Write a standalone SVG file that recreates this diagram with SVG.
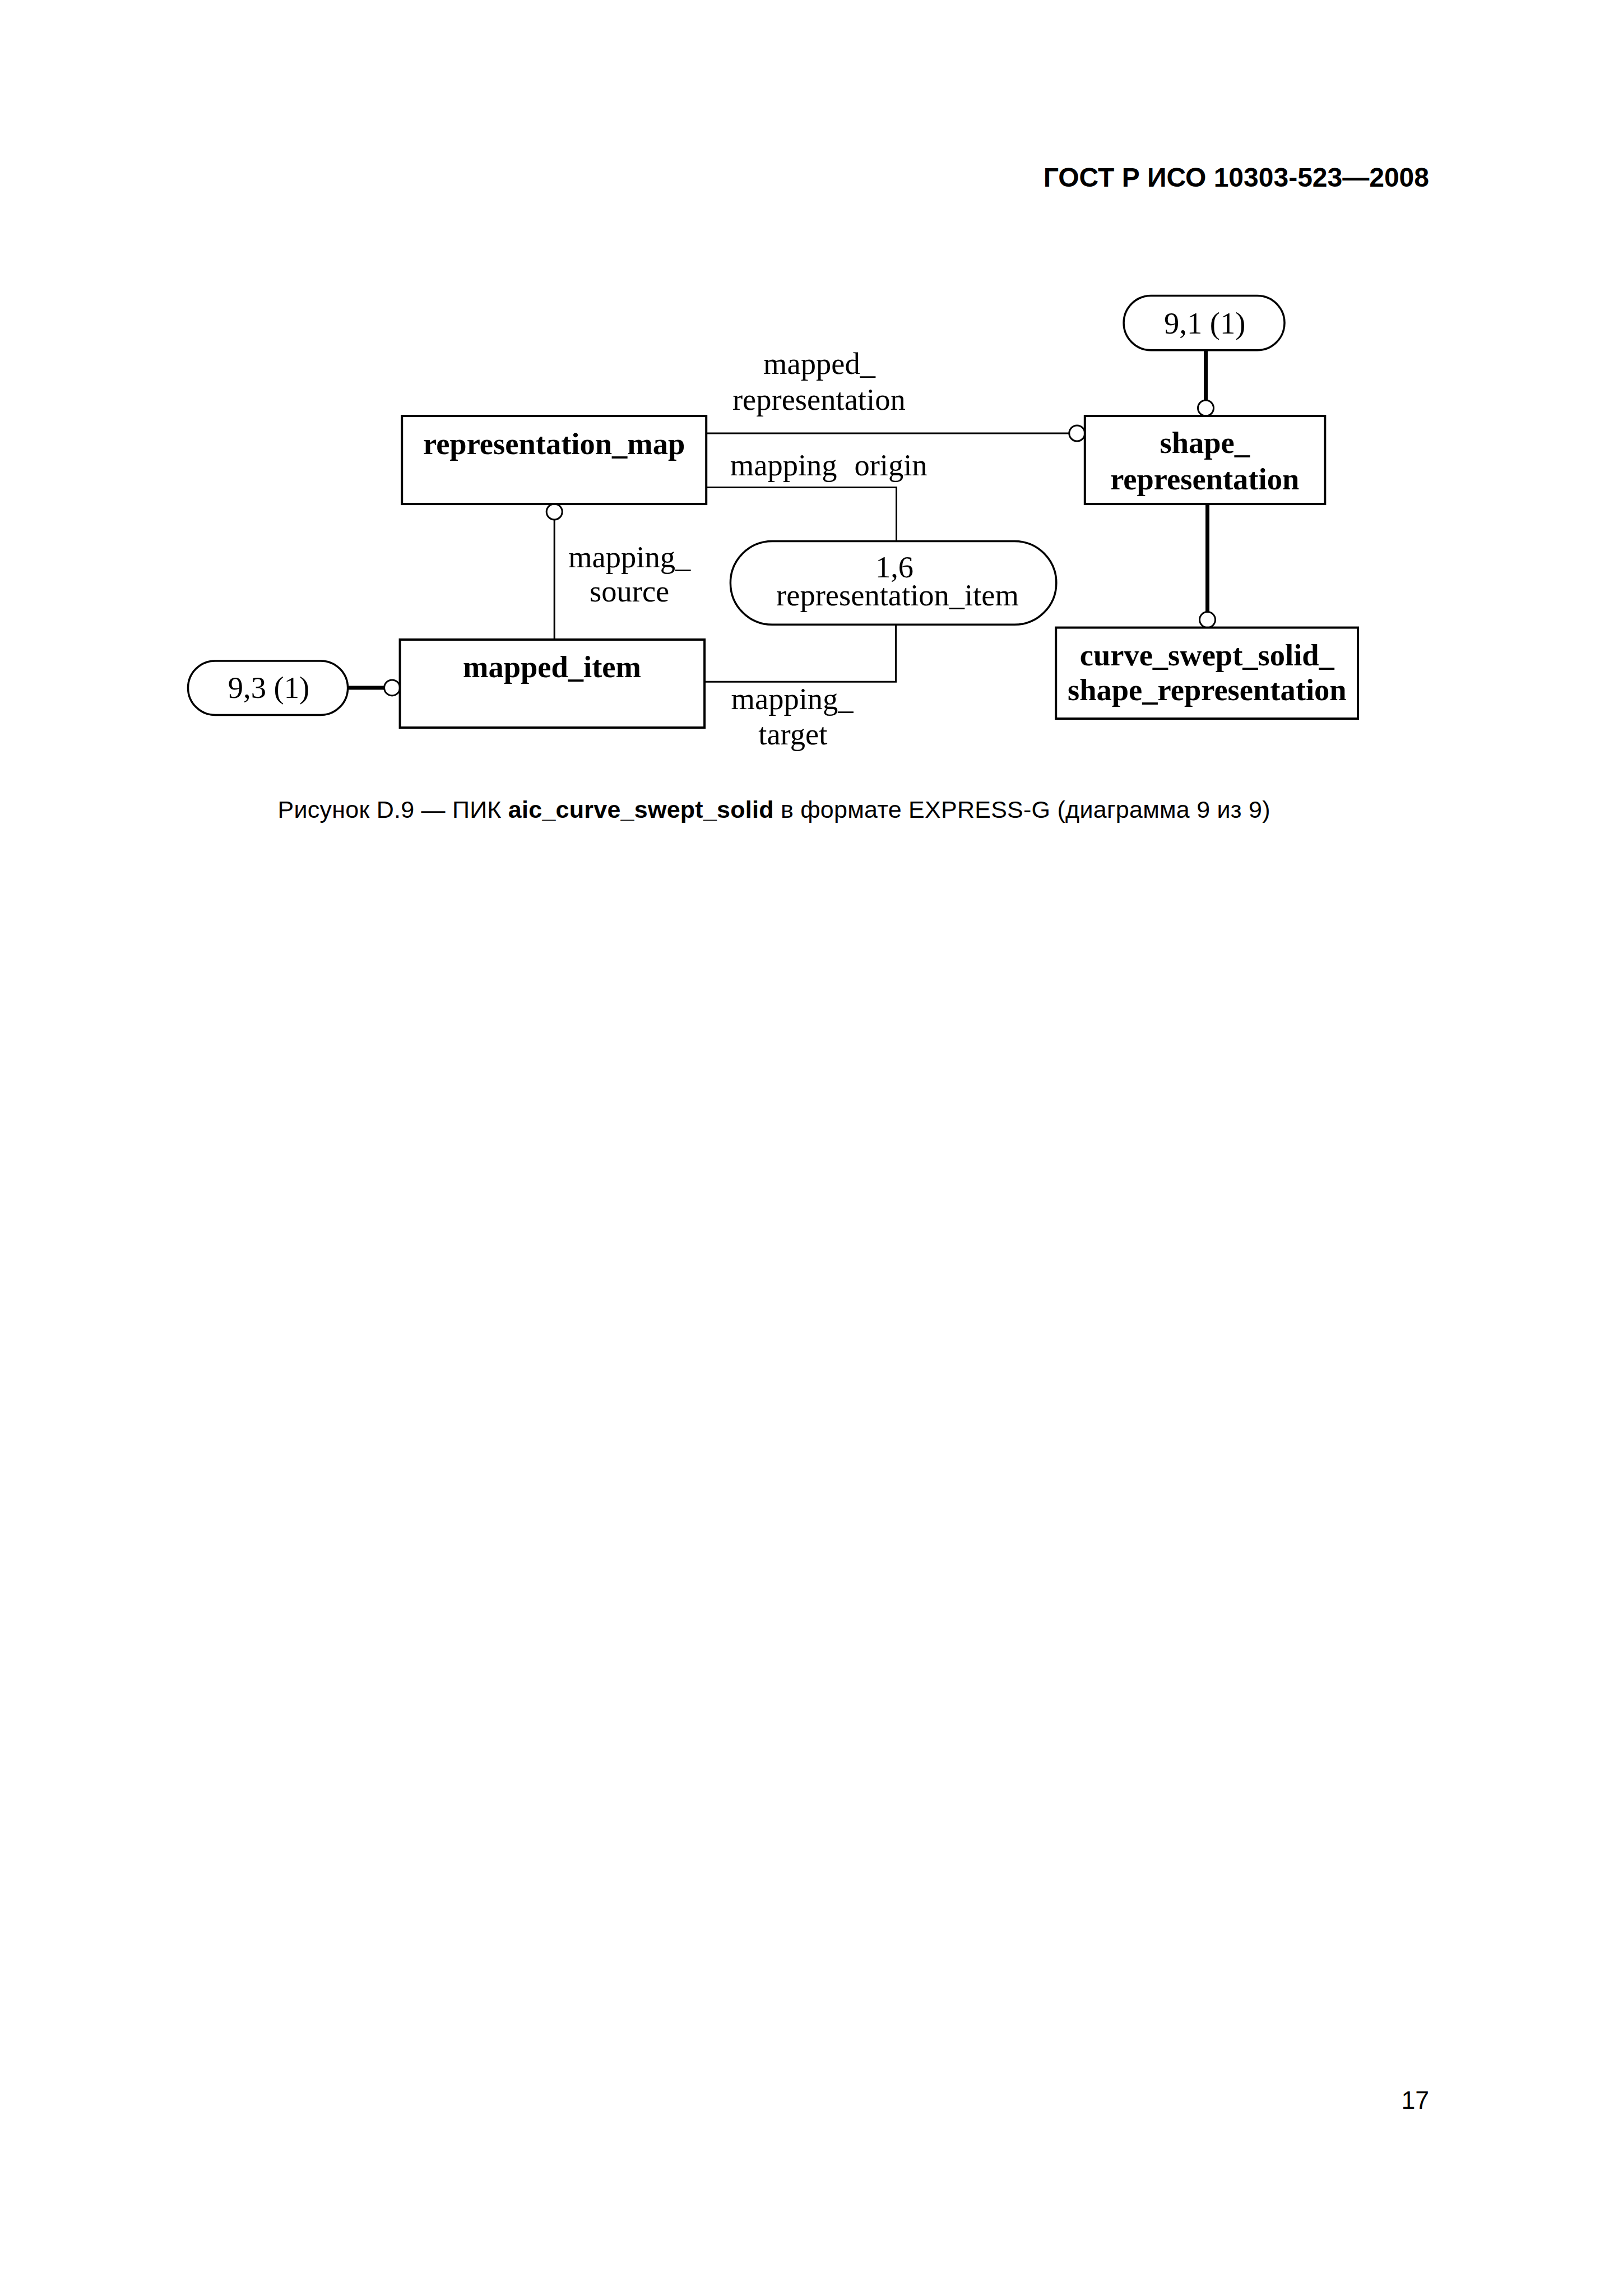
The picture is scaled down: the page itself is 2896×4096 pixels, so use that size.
<svg xmlns="http://www.w3.org/2000/svg" width="2896" height="4096" viewBox="0 0 2896 4096">
<style>
.bg{fill:#fff}
.box{fill:#fff;stroke:#000;stroke-width:4}
.pill{fill:#fff;stroke:#000;stroke-width:3.5}
.ln{fill:none;stroke:#000;stroke-width:3}
.thick{fill:none;stroke:#000;stroke-width:7}
.circ{fill:#fff;stroke:#000;stroke-width:3}
.t{font-family:"Liberation Serif","Times New Roman",serif;font-size:54.5px;fill:#000;text-anchor:middle}
.b{font-weight:bold}
.s{font-family:"Liberation Sans",Arial,sans-serif;fill:#000}
</style>
<rect class="bg" x="0" y="0" width="2896" height="4096"/>
<text class="s" x="2550" y="333" font-size="48" font-weight="bold" text-anchor="end">ГОСТ Р ИСО 10303-523—2008</text>

<g id="connectors">
  <line class="ln" x1="1260" y1="773" x2="1907.5" y2="773"/>
  <circle class="circ" cx="1921.8" cy="773" r="14"/>
  <polyline class="ln" points="1260,869.5 1599.5,869.5 1599.5,965.5"/>
  <polyline class="ln" points="1257,1216.2 1598.5,1216.2 1598.5,1114.3"/>
  <line class="ln" x1="989.2" y1="927" x2="989.2" y2="1141"/>
  <circle class="circ" cx="989.2" cy="913" r="14"/>
  <line class="thick" x1="2151.5" y1="624.7" x2="2151.5" y2="714"/>
  <circle class="circ" cx="2151.5" cy="728" r="14"/>
  <line class="thick" x1="2154.5" y1="899" x2="2154.5" y2="1091.6"/>
  <circle class="circ" cx="2154.5" cy="1105.6" r="14"/>
  <line class="thick" x1="620.6" y1="1226.9" x2="685.6" y2="1226.9"/>
  <circle class="circ" cx="699.6" cy="1226.9" r="14"/>
  <text class="t" x="1462" y="666.8">mapped_</text>
  <text class="t" x="1461.3" y="731.4">representation</text>
  <text class="t" style="text-anchor:start"><tspan x="1302.8" y="847.6">mapping</tspan><tspan x="1524.4" y="847.6">origin</tspan></text>
  <text class="t" x="1123.2" y="1011.7">mapping_</text>
  <text class="t" x="1123.2" y="1073.4">source</text>
  <text class="t" x="1413.6" y="1265.4">mapping_</text>
  <text class="t" x="1414.8" y="1327.7">target</text>
</g>

<g id="representation_map">
  <rect class="box" x="717.2" y="742.1" width="543" height="157"/>
  <text class="t b" x="988.6" y="809.6">representation_map</text>
</g>
<g id="shape_representation">
  <rect class="box" x="1935.8" y="742.1" width="428.5" height="157"/>
  <text class="t b" x="2149.7" y="807.9">shape_</text>
  <text class="t b" x="2149.7" y="872.5">representation</text>
</g>
<g id="mapped_item">
  <rect class="box" x="713.6" y="1141" width="543.5" height="157"/>
  <text class="t b" x="985" y="1208">mapped_item</text>
</g>
<g id="curve_swept_solid_shape_representation">
  <rect class="box" x="1884.2" y="1119.6" width="538.8" height="162.4"/>
  <text class="t b" x="2153.8" y="1186.6">curve_swept_solid_</text>
  <text class="t b" x="2153.8" y="1249.4">shape_representation</text>
</g>
<g id="ref_9_1">
  <rect class="pill" x="2005.1" y="527.5" width="286.9" height="97.2" rx="48.6" ry="48.6"/>
  <text class="t" x="2149.7" y="594.5">9,1 (1)</text>
</g>
<g id="ref_9_3">
  <rect class="pill" x="335.5" y="1178.9" width="285.1" height="96.6" rx="48.3" ry="48.3"/>
  <text class="t" x="479.5" y="1244.7">9,3 (1)</text>
</g>
<g id="representation_item">
  <rect class="pill" x="1303.4" y="965.5" width="581.4" height="148.8" rx="74.4" ry="74.4"/>
  <text class="t" x="1596" y="1029.5">1,6</text>
  <text class="t" x="1601.5" y="1079.9">representation_item</text>
</g>

<text class="s" x="495.5" y="1459" font-size="43" textLength="1771" lengthAdjust="spacing">Рисунок D.9 — ПИК <tspan font-weight="bold">aic_curve_swept_solid</tspan> в формате EXPRESS-G (диаграмма 9 из 9)</text>
<text class="s" x="2550" y="3762" font-size="44.5" text-anchor="end">17</text>
</svg>
